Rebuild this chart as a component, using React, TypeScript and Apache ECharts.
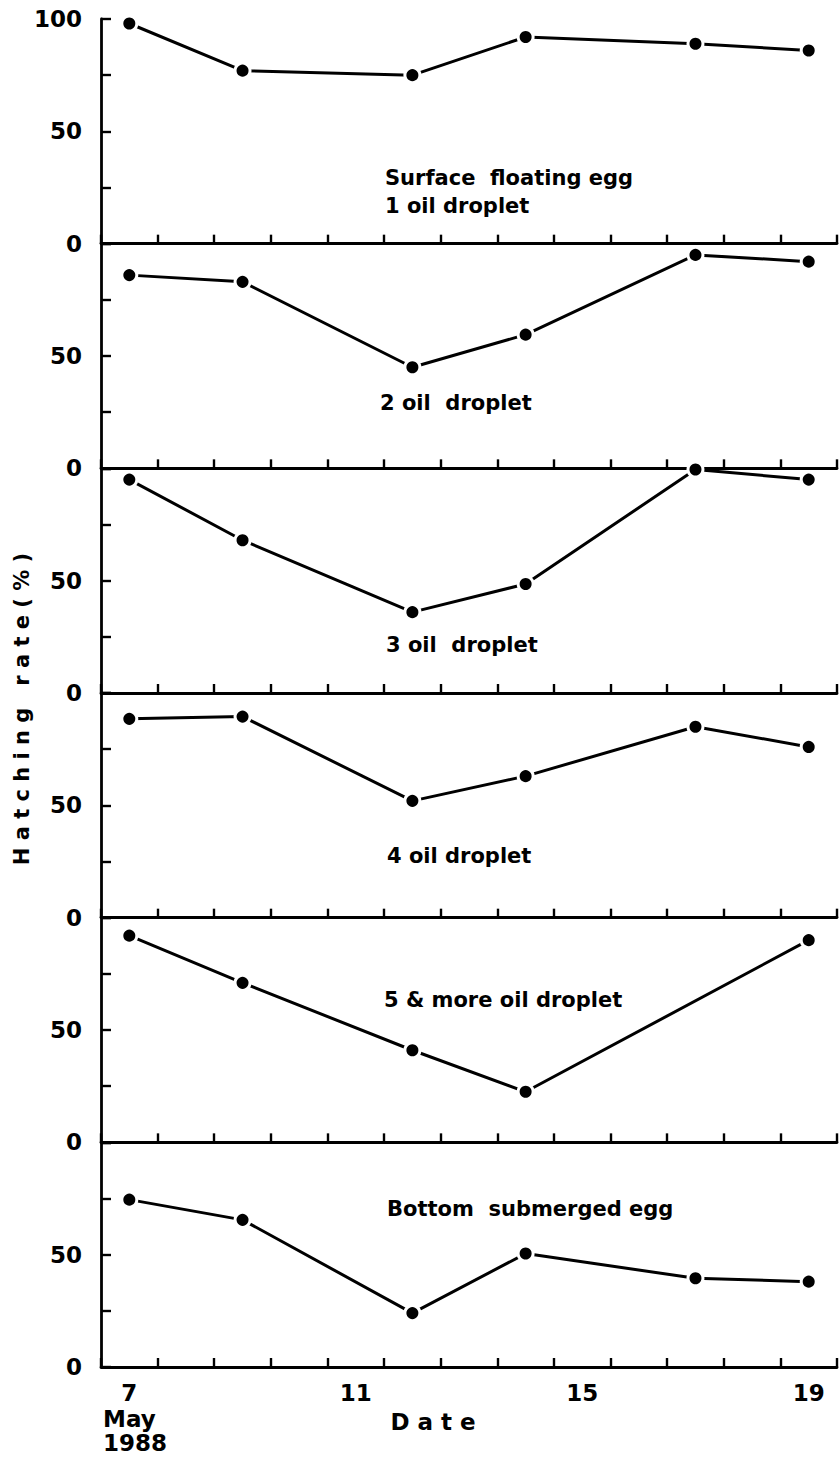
import React, { useEffect, useRef } from 'react';
import * as echarts from 'echarts';

// Day categories along the x axis (May 1988)
const categories = ['7', '8', '9', '10', '11', '12', '13', '14', '15', '16', '17', '18', '19'];
const shownDayLabels = ['7', '11', '15', '19'];
// Sampling days
const days = ['7', '9', '12', '14', '17', '19'];

// Hatching rate (%) per egg type
const surface1Oil = [98, 77, 75, 92, 89, 86];
const twoOil = [86, 83, 45, 59.5, 95, 92];
const threeOil = [95, 68, 36, 48.5, 99.5, 95];
const fourOil = [88.5, 89.5, 52, 63, 85, 76];
const fiveMoreOil = [92, 71, 41, 22.5, null, 90];
const bottomSubmerged = [74.5, 65.5, 24, 50.5, 39.5, 38];

const panelSeries = [surface1Oil, twoOil, threeOil, fourOil, fiveMoreOil, bottomSubmerged];
const panelTexts = [
  ['Surface  floating egg', '1 oil droplet'],
  ['2 oil  droplet'],
  ['3 oil  droplet'],
  ['4 oil droplet'],
  ['5 & more oil droplet'],
  ['Bottom  submerged egg'],
];
const yTickLabels = ['0', '50', '100'];

const FONT = '"DejaVu Sans", "Liberation Sans", sans-serif';

export default function App() {
  const ref = useRef<HTMLDivElement>(null);

  useEffect(() => {
    if (!ref.current) return;
    const chart = echarts.init(ref.current, null, { renderer: 'svg' });

    const top0 = 19;
    const ph = 224.67;
    const left = 101;
    const width = 736;
    const n = panelSeries.length;

    const grids = panelSeries.map((_, i) => ({
      left,
      width,
      top: top0 + i * ph,
      height: ph,
    }));

    const axisLineStyle = { color: '#000', width: 2.8 };

    const xAxes = panelSeries.map((_, i) => ({
      type: 'category',
      gridIndex: i,
      data: categories,
      boundaryGap: true,
      axisLine: { show: true, lineStyle: axisLineStyle },
      axisTick: { show: true, inside: true, length: 9, interval: 0, lineStyle: { color: '#000', width: 2.4 } },
      axisLabel: {
        show: i === n - 1,
        interval: 0,
        formatter: (v: string) => (shownDayLabels.includes(v) ? v : ''),
        color: '#000',
        fontFamily: FONT,
        fontWeight: 'bold',
        fontSize: 23,
        margin: 14,
      },
      splitLine: { show: false },
    }));

    const yAxes = panelSeries.map((_, i) => ({
      type: 'value',
      gridIndex: i,
      min: 0,
      max: 100,
      interval: 25,
      axisLine: { show: true, lineStyle: axisLineStyle },
      axisTick: { show: true, inside: true, length: 10, lineStyle: { color: '#000', width: 2.4 } },
      axisLabel: {
        show: true,
        formatter: (v: number) => {
          const s = String(v);
          if (s === '100') return i === 0 ? s : '';
          return yTickLabels.includes(s) ? s : '';
        },
        color: '#000',
        fontFamily: FONT,
        fontWeight: 'bold',
        fontSize: 23,
        margin: 19,
      },
      splitLine: { show: false },
    }));

    const series = panelSeries.map((vals, i) => ({
      type: 'line',
      xAxisIndex: i,
      yAxisIndex: i,
      data: days
        .map((d, k) => [d, vals[k]])
        .filter((p) => p[1] !== null && p[1] !== undefined),
      connectNulls: true,
      clip: false,
      symbol: 'circle',
      symbolSize: 15,
      lineStyle: { color: '#000', width: 3 },
      itemStyle: { color: '#000', borderColor: '#fff', borderWidth: 3 },
      z: 5,
    }));

    const annotPos = [
      [385, 178],
      [380, 403],
      [386, 645],
      [387, 856],
      [384, 1000],
      [387, 1209],
    ];

    const graphics: any[] = [];
    panelTexts.forEach((lines, i) => {
      lines.forEach((t, j) => {
        graphics.push({
          type: 'text',
          x: annotPos[i][0],
          y: annotPos[i][1] + j * 28,
          style: {
            text: t,
            fill: '#000',
            fontFamily: FONT,
            fontWeight: 'bold',
            fontSize: 21,
            align: 'left',
            verticalAlign: 'middle',
          },
        });
      });
    });
    graphics.push({
      type: 'text',
      x: 22,
      y: 709,
      rotation: Math.PI / 2,
      style: {
        text: 'H a t c h i n g   r a t e ( % )',
        fill: '#000',
        fontFamily: FONT,
        fontWeight: 'bold',
        fontSize: 21,
        align: 'center',
        verticalAlign: 'middle',
      },
    });
    graphics.push({
      type: 'text',
      x: 433,
      y: 1422,
      style: {
        text: 'D a t e',
        fill: '#000',
        fontFamily: FONT,
        fontWeight: 'bold',
        fontSize: 23,
        align: 'center',
        verticalAlign: 'middle',
      },
    });
    graphics.push({
      type: 'text',
      x: 103,
      y: 1419,
      style: {
        text: 'May',
        fill: '#000',
        fontFamily: FONT,
        fontWeight: 'bold',
        fontSize: 23,
        align: 'left',
        verticalAlign: 'middle',
      },
    });
    graphics.push({
      type: 'text',
      x: 103,
      y: 1443,
      style: {
        text: '1988',
        fill: '#000',
        fontFamily: FONT,
        fontWeight: 'bold',
        fontSize: 23,
        align: 'left',
        verticalAlign: 'middle',
      },
    });

    chart.setOption({
      animation: false,
      backgroundColor: '#fff',
      grid: grids,
      xAxis: xAxes,
      yAxis: yAxes,
      series,
      graphic: graphics,
    });

    return () => chart.dispose();
  }, []);

  return (
    <div
      ref={ref}
      style={{ position: 'absolute', left: 0, top: 0, width: 839, height: 1458, background: '#fff' }}
    />
  );
}
